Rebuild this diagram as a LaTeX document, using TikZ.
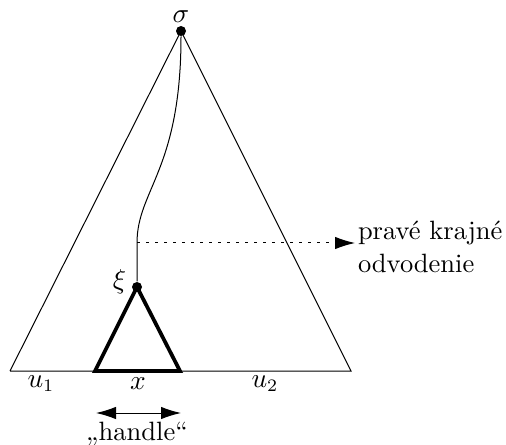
\documentclass[tikz,border=0pt]{standalone}
\usepackage{amsmath,amssymb}
\usepackage{tikz}
\usetikzlibrary{arrows.meta,positioning,calc}

\begin{document}
\begin{tikzpicture}[
    x=0.4pt, y=-0.4pt,
    dot/.style={circle, fill=black, inner sep=0pt, minimum size=4pt},
    lbl/.style={font=\fontsize{10.6}{13}\selectfont, inner sep=1pt}
]
\useasboundingbox (0,0) rectangle (506,445);
% Derivation tree
\node[dot] (sigma) at (181,31) {};
\node[lbl, above=0pt of sigma] {$\sigma$};
\coordinate (bl) at (10,371);
\coordinate (br) at (351,371);
\draw (bl)--(sigma.center)--(br)--(bl);
% Handle subtree
\node[dot] (xi) at (137,287) {};
\node[lbl, left=1pt of xi, yshift=2pt] {$\xi$};
\coordinate (hl) at (95,371);
\coordinate (hr) at (180,371);
\draw[line width=1.5pt, line join=miter] (hl)--(xi.center)--(hr)--cycle;
% Path from the root
\coordinate (mid) at (137,243);
\draw (sigma) .. controls (181,170) and (137,190) .. (mid) -- (xi);
% Rightmost derivation
\node[lbl, align=left, anchor=west] (rm) at (355,247) {pravé krajné\\odvodenie};
\draw[dash pattern=on 1.2pt off 2.4pt, -{Latex[length=8pt,width=5pt]}] (mid) -- (rm.west |- mid);
% Labels of the frontier
\node[lbl] (u1) at (41,384) {$u_1$};
\node[lbl] (x) at (138,384) {$x$};
\node[lbl] (u2) at (265,384) {$u_2$};
% Handle
\coordinate (al) at (96,413);
\coordinate (ar) at (181,413);
\draw[{Latex[length=8pt,width=5pt]}-{Latex[length=8pt,width=5pt]}] (al) -- (ar);
\node[lbl] (hd) at (137,434) {„handle“};
\end{tikzpicture}
\end{document}
